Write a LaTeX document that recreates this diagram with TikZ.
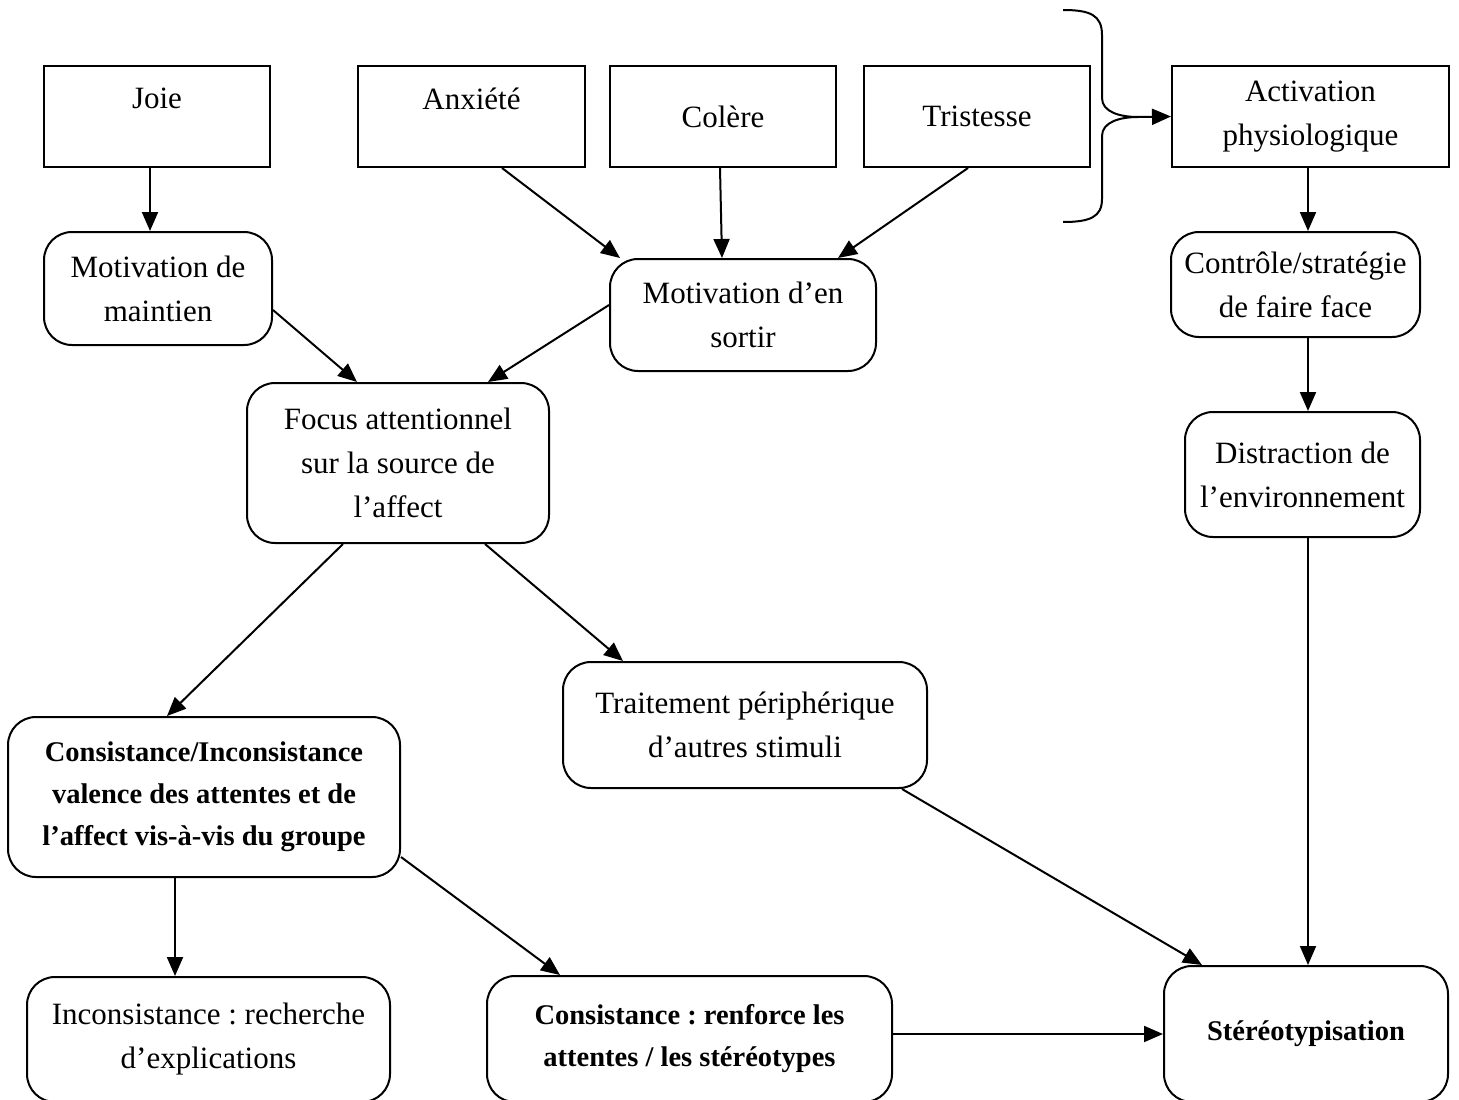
\documentclass[tikz,border=0pt]{standalone}
\usepackage{fontspec}
\setmainfont{Liberation Serif}
\usetikzlibrary{arrows.meta}
\frenchspacing
\begin{document}
\begin{tikzpicture}[x=1pt,y=-1pt,
  every node/.style={inner sep=0pt, align=center, font=\frenchspacing\fontsize{31}{44}\selectfont},
  sq/.style={draw, line width=2pt},
  rb/.style={draw, line width=2pt, rounded corners=28pt},
  bftext/.style={font=\frenchspacing\fontsize{28.5}{42}\selectfont\bfseries},
  arr/.style={line width=2pt, -{Triangle[length=19pt,width=16pt]}},
  bracestyle/.style={line width=2pt}]
\clip (0,0) rectangle (1459,1100);
\fill[white] (0,0) rectangle (1459,1100);

% top row
\node[sq, minimum width=226pt, minimum height=101pt, label={[yshift=18pt]center:Joie}] (joie) at (157,116.5) {};
\node[sq, minimum width=227pt, minimum height=101pt, label={[yshift=18pt]center:Anxiété}] (anx) at (471.5,116.5) {};
\node[sq, minimum width=226pt, minimum height=101pt] (col) at (723,116.5) {Colère};
\node[sq, minimum width=226pt, minimum height=101pt] (tri) at (977,116.5) {Tristesse};
\node[sq, minimum width=277pt, minimum height=101pt] (act) at (1310.5,116.5) {Activation\\physiologique};

% second row
\node[rb, minimum width=228pt, minimum height=113pt] (mm) at (158,288.5) {Motivation de\\maintien};
\node[rb, minimum width=266pt, minimum height=112pt] (mo) at (743,315) {Motivation d’en\\sortir};
\node[rb, minimum width=249pt, minimum height=105pt] (ctl) at (1295.5,284.5) {Contrôle/stratégie\\de faire face};

% third row
\node[rb, minimum width=302pt, minimum height=160pt] (focus) at (398,463) {Focus attentionnel\\sur la source de\\l’affect};
\node[rb, minimum width=235pt, minimum height=125pt] (dis) at (1302.5,474.5) {Distraction de\\l’environnement};

% fourth row
\node[rb, minimum width=364pt, minimum height=126pt] (trait) at (745,725) {Traitement périphérique\\d’autres stimuli};
\node[rb, bftext, minimum width=392pt, minimum height=160pt] (cons) at (204,797) {Consistance/Inconsistance\\valence des attentes et de\\l’affect vis-à-vis du groupe};

% bottom row
\node[rb, minimum width=363pt, minimum height=125pt] (inc) at (208.5,1039.5) {Inconsistance : recherche\\d’explications};
\node[rb, bftext, minimum width=405pt, minimum height=126pt] (renf) at (689.5,1039) {Consistance : renforce les\\attentes / les stéréotypes};
\node[rb, bftext, minimum width=284pt, minimum height=136pt] (ste) at (1306,1034) {Stéréotypisation};

% brace
\draw[bracestyle] (1063,10) .. controls (1090,10) and (1102,15) .. (1102,35) -- (1102,98)
  .. controls (1102,112) and (1120,117) .. (1138,117)
  .. controls (1120,117) and (1102,122) .. (1102,136) -- (1102,199)
  .. controls (1102,217) and (1090,222) .. (1063,222);
\coordinate (bt) at (1138,117);
\draw[arr] (bt) -- (act.west);

% arrows
\draw[arr] ([xshift=-7pt]joie.south) -- ([xshift=-8pt]mm.north);
\draw[arr] ([xshift=30.5pt]anx.south) -- ([xshift=-123pt]mo.north);
\draw[arr] ([xshift=-3pt]col.south) -- ([xshift=-21pt]mo.north);
\draw[arr] ([xshift=-9pt]tri.south) -- ([xshift=95pt]mo.north);
\draw[arr] ([xshift=-2.5pt]act.south) -- ([xshift=12.5pt]ctl.north);
\draw[arr] ([xshift=12.5pt]ctl.south) -- ([xshift=5.5pt]dis.north);
\draw[arr] ([xshift=5.5pt]dis.south) -- ([xshift=2pt]ste.north);
\draw[arr] ([yshift=-21.5pt]mm.east) -- ([xshift=-41pt]focus.north);
\draw[arr] ([yshift=10pt]mo.west) -- ([xshift=90pt]focus.north);
\draw[arr] ([xshift=-55pt]focus.south) -- ([xshift=-37pt]cons.north);
\draw[arr] ([xshift=87pt]focus.south) -- ([xshift=-122pt]trait.north);
\draw[arr] ([xshift=-29pt]cons.south) -- ([xshift=-33.5pt]inc.north);
\draw[arr] ([yshift=-60pt]cons.east) -- ([xshift=-129.5pt]renf.north);
\draw[arr] (renf.east |- ste.west) -- (ste.west);
\draw[arr] ([xshift=157pt]trait.south) -- ([xshift=-104pt]ste.north);
\end{tikzpicture}
\end{document}
